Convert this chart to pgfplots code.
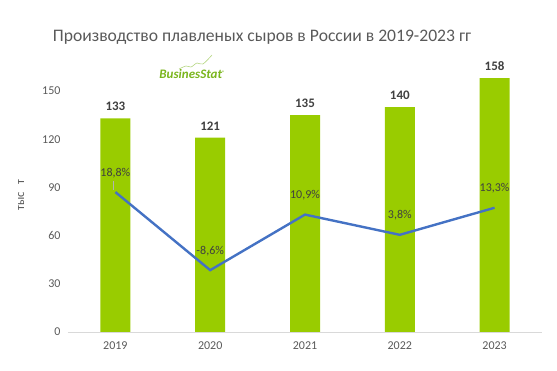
\documentclass[border=0pt]{standalone}
\usepackage{pgfplots}
\pgfplotsset{compat=1.18}
\usepackage{fontspec}
\setmainfont{Carlito}
\definecolor{bargreen}{HTML}{99CC00}
\definecolor{lineblue}{HTML}{4472C4}
\definecolor{txt}{HTML}{595959}
\definecolor{dtxt}{HTML}{404040}
\definecolor{axgrey}{HTML}{D9D9D9}
\definecolor{logogreen}{HTML}{7AB51D}
\begin{document}
\begin{tikzpicture}[x=1pt,y=1pt]
\path[use as bounding box] (0,0) rectangle (557,371);
\node[text=txt, font=\fontsize{17.6}{19}\selectfont] at (262,334) {Производство плавленых сыров в России в 2019-2023 гг};
% logo
\draw[logogreen!55, line width=0.6pt] plot[smooth] coordinates {(179,302) (186,305) (191,304) (197,308) (203,307) (212,316)};
\node[text=logogreen, font=\bfseries\itshape\fontsize{13}{13}\selectfont, inner sep=0] at (192,297) {BusinesStat\raisebox{0.6ex}{\fontsize{5}{5}\selectfont\upshape ®}};
\begin{axis}[
  at={(68pt,39pt)}, anchor=south west,
  width=474pt, height=265pt, scale only axis,
  xmin=-0.5, xmax=4.5, ymin=0, ymax=165,
  ytick={0,30,...,150},
  xtick={0,1,2,3,4}, xticklabels={2019,2020,2021,2022,2023},
  axis lines*=left,
  y axis line style={draw=none},
  x axis line style={draw=axgrey, line width=0.8pt},
  major tick length=0pt, tick style={draw=none},
  ticklabel style={text=txt, font=\fontsize{12}{12}\selectfont},
  /pgf/number format/assume math mode=true,
  xticklabel style={yshift=-6pt},
  yticklabel style={xshift=-4pt},
  ylabel={тыс\hspace{0.6em}т},
  ylabel style={at={(axis description cs:-0.099,0.517)}, anchor=center, text=txt, font=\fontsize{12.5}{12.5}\selectfont},
  ybar, bar width=30pt,
  nodes near coords,
  every node near coord/.append style={text=dtxt, font=\bfseries\fontsize{13}{13}\selectfont, yshift=4pt},
]
\addplot[fill=bargreen, draw=none] coordinates {(0,133) (1,121) (2,135) (3,140) (4,158)};
\end{axis}
\begin{axis}[
  at={(68pt,39pt)}, anchor=south west,
  width=474pt, height=265pt, scale only axis,
  xmin=-0.5, xmax=4.5, ymin=-30.3, ymax=62.7,
  hide axis,
]
\draw[black!30, line width=0.5pt] (axis cs:-0.02,19.6) -- (axis cs:-0.02,22.8);
\addplot[lineblue, line width=2.4pt, no marks,
  nodes near coords, point meta=explicit symbolic,
  every node near coord/.append style={text=dtxt, font=\fontsize{12}{12}\selectfont, yshift=10pt}]
  coordinates {(0,18.8)[18,8\%] (1,-8.6)[-8,6\%] (2,10.9)[10,9\%] (3,3.8)[3,8\%] (4,13.3)[13,3\%]};
\end{axis}
\end{tikzpicture}
\end{document}
